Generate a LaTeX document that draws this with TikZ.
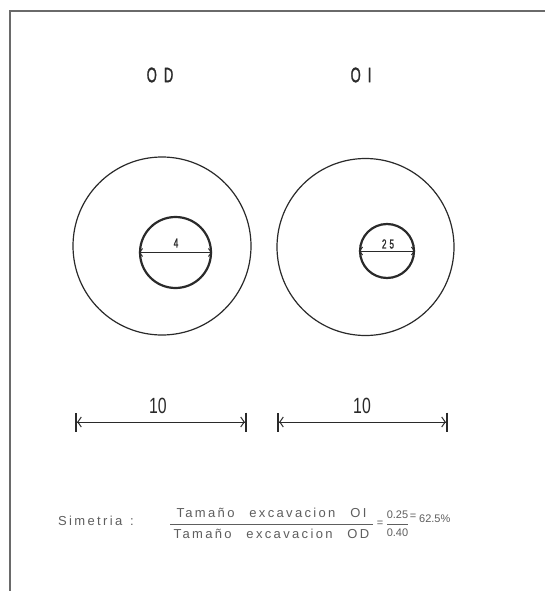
\documentclass[tikz,border=0pt]{standalone}
\usepackage{fontspec}
\setmainfont{Liberation Sans}
\newfontfamily\condfont[FakeStretch=0.72]{Liberation Sans}
\newfontfamily\condbold[FakeStretch=0.62,FakeBold=1.2]{Liberation Sans}
\newfontfamily\spacedfont[LetterSpace=18,WordSpace=2.5]{Liberation Sans}
\usetikzlibrary{arrows.meta}
\definecolor{ink}{HTML}{2A2A2A}
\definecolor{grayink}{HTML}{5E5E5E}
\definecolor{framecol}{HTML}{6A6A6A}
\begin{document}
\begin{tikzpicture}[x=1pt,y=-1pt,
  outerc/.style={circle,draw=ink,line width=1.2pt,inner sep=0pt},
  innerc/.style={circle,draw=ink,line width=2.2pt,inner sep=0pt},
  titlelabel/.style={font=\condbold\fontsize{21}{21}\selectfont,text=ink,inner sep=0pt},
  biglabel/.style={font=\condfont\fontsize{22}{22}\selectfont,text=ink,inner sep=0pt},
  smalllabel/.style={font=\condbold\fontsize{13}{13}\selectfont,text=ink,inner sep=0pt},
  formtext/.style={font=\spacedfont\fontsize{13}{13}\selectfont,text=grayink,inner sep=0pt},
  numtext/.style={font=\fontsize{11}{11}\selectfont,text=grayink,inner sep=0pt},
  diaarrow/.style={ink,line width=1pt,{Straight Barb[length=3pt,width=8pt]}-{Straight Barb[length=3pt,width=8pt]}},
  dimline/.style={ink,line width=1pt,{Bar[width=19pt,line width=2.2pt]Straight Barb[length=3.5pt,width=10pt]}-{Straight Barb[length=3.5pt,width=10pt]Bar[width=19pt,line width=2.2pt]}}
]
\useasboundingbox (0,0) rectangle (545,591);
\fill[white] (0,0) rectangle (545,591);
% frame
\coordinate (ftr) at (545,11);
\coordinate (ftl) at (10,11);
\coordinate (fbl) at (10,591);
\draw[framecol,line width=1.3pt] (ftr) -- (ftl) -- (fbl);
% titles
\node[titlelabel] (tOD) at (160,75) {O\hspace{7pt}D};
\node[titlelabel] (tOI) at (361,75) {O\hspace{7pt}I};
% circles left
\node[outerc,minimum size=178pt] (outD) at (162,246) {};
\node[innerc,minimum size=71pt] (inD) at (175.5,252.5) {};
\draw[diaarrow] (inD.west) -- (inD.east);
\node[smalllabel] (lD) at (176,243) {4};
% circles right
\node[outerc,minimum size=177pt] (outI) at (365.5,247) {};
\node[innerc,minimum size=54pt] (inI) at (387,251) {};
\draw[diaarrow] (inI.west) -- (inI.east);
\node[smalllabel] (lI) at (388,244) {2\hspace{3pt}5};
% dimension lines
\coordinate (d1a) at (75,422);
\coordinate (d1b) at (247,422);
\coordinate (d2a) at (277,422);
\coordinate (d2b) at (448,422);
\draw[dimline] (d1a) -- (d1b);
\draw[dimline] (d2a) -- (d2b);
\node[biglabel] (n1) at (158,406) {10};
\node[biglabel] (n2) at (362,406) {10};
% formula
\node[formtext,anchor=west] (sim) at (58,521) {Simetria\hspace{8pt}:};
\node[formtext] (num) at (271.5,513) {Tamaño excavacion OI};
\node[formtext] (den) at (271.5,534) {Tamaño excavacion OD};
\coordinate (fl1) at (170,524);
\coordinate (fl2) at (373,524);
\draw[grayink,line width=0.8pt] (fl1) -- (fl2);
\node[numtext] (eq1) at (380,524) {=};
\node[numtext] (a1) at (397.5,515) {0.25};
\node[numtext] (a2) at (397.5,533) {0.40};
\coordinate (gl1) at (387,524);
\coordinate (gl2) at (408,524);
\draw[grayink,line width=0.8pt] (gl1) -- (gl2);
\node[numtext] (eq2) at (413,517) {=};
\node[numtext,anchor=west] (res) at (419,519) {62.5\%};
\end{tikzpicture}
\end{document}
